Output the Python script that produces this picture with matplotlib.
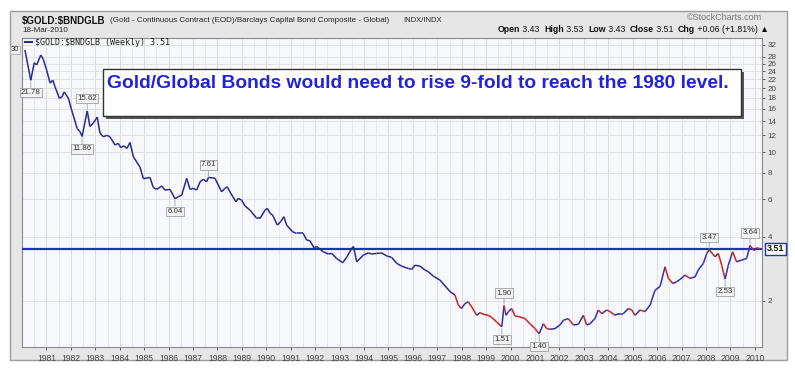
import matplotlib
matplotlib.use('Agg')
import matplotlib.pyplot as plt
from matplotlib.patches import Rectangle
from matplotlib.collections import LineCollection
from matplotlib.ticker import NullLocator, FixedLocator, FixedFormatter
import numpy as np

# weekly ratio $GOLD:$BNDGLB (decimal year, ratio)
years = [1980.12, 1980.36, 1980.50, 1980.60, 1980.77, 1980.87, 1981.01, 1981.15, 1981.26, 1981.35,
         1981.53, 1981.64, 1981.73, 1981.90, 1982.03, 1982.26, 1982.37, 1982.46, 1982.67, 1982.78,
         1982.92, 1983.08, 1983.19, 1983.33, 1983.47, 1983.60, 1983.81, 1983.94, 1984.04, 1984.18,
         1984.29, 1984.42, 1984.56, 1984.83, 1984.97, 1985.24, 1985.37, 1985.51, 1985.72, 1985.85,
         1986.06, 1986.26, 1986.40, 1986.54, 1986.74, 1986.88, 1987.01, 1987.15, 1987.29, 1987.42,
         1987.56, 1987.63, 1987.90, 1988.17, 1988.31, 1988.40, 1988.51, 1988.76, 1988.85, 1988.99,
         1989.13, 1989.33, 1989.61, 1989.74, 1989.95, 1990.04, 1990.15, 1990.26, 1990.45, 1990.59,
         1990.72, 1990.83, 1991.08, 1991.24, 1991.51, 1991.65, 1991.79, 1991.95, 1992.06, 1992.33,
         1992.54, 1992.68, 1992.88, 1993.13, 1993.30, 1993.50, 1993.57, 1993.70, 1993.97, 1994.18,
         1994.31, 1994.52, 1994.72, 1994.93, 1995.13, 1995.34, 1995.54, 1995.81, 1995.95, 1996.09,
         1996.29, 1996.50, 1996.63, 1996.84, 1997.11, 1997.52, 1997.72, 1997.86, 1997.99, 1998.13,
         1998.27, 1998.41, 1998.61, 1998.75, 1998.88, 1999.09, 1999.23, 1999.43, 1999.64, 1999.73,
         1999.81, 1999.91, 2000.04, 2000.18, 2000.38, 2000.59, 2000.79, 2001.00, 2001.17, 2001.34,
         2001.48, 2001.61, 2001.82, 2002.02, 2002.16, 2002.36, 2002.57, 2002.77, 2002.98, 2003.11,
         2003.25, 2003.45, 2003.59, 2003.73, 2003.93, 2004.07, 2004.27, 2004.41, 2004.61, 2004.82,
         2004.96, 2005.09, 2005.30, 2005.50, 2005.71, 2005.91, 2006.12, 2006.32, 2006.46, 2006.64,
         2006.80, 2006.93, 2007.14, 2007.34, 2007.55, 2007.68, 2007.89, 2008.03, 2008.13, 2008.37,
         2008.50, 2008.64, 2008.78, 2008.91, 2009.09, 2009.25, 2009.46, 2009.66, 2009.80, 2009.96,
         2010.08, 2010.21]
ratio = [30.2, 21.78, 26.3, 25.7, 28.6, 27.3, 24.3, 21.1, 21.8, 20.3,
         17.9, 18.2, 19.2, 17.9, 15.8, 12.9, 12.5, 11.86, 15.62, 13.2,
         13.7, 14.6, 12.3, 11.8, 12.0, 11.8, 10.8, 11.0, 10.5, 10.7,
         10.4, 11.1, 9.5, 8.5, 7.5, 7.6, 6.83, 6.68, 6.93, 6.63,
         6.68, 6.04, 6.17, 6.28, 7.53, 6.68, 6.76, 6.63, 7.26, 7.45,
         7.26, 7.61, 7.53, 6.51, 6.76, 6.87, 6.51, 5.84, 6.06, 5.95,
         5.58, 5.34, 4.88, 4.88, 5.34, 5.44, 5.16, 5.06, 4.54, 4.71,
         4.97, 4.54, 4.22, 4.15, 4.15, 3.86, 3.83, 3.55, 3.60, 3.40,
         3.32, 3.34, 3.16, 3.02, 3.22, 3.53, 3.60, 3.05, 3.28, 3.36,
         3.32, 3.34, 3.36, 3.25, 3.20, 3.00, 2.91, 2.84, 2.81, 2.94,
         2.91, 2.79, 2.74, 2.61, 2.50, 2.21, 2.13, 1.91, 1.84, 1.94,
         1.98, 1.87, 1.71, 1.76, 1.73, 1.71, 1.67, 1.59, 1.51, 1.90,
         1.71, 1.78, 1.84, 1.70, 1.68, 1.65, 1.56, 1.48, 1.40, 1.56,
         1.48, 1.47, 1.48, 1.54, 1.62, 1.65, 1.54, 1.55, 1.71, 1.54,
         1.56, 1.65, 1.81, 1.74, 1.81, 1.78, 1.71, 1.74, 1.74, 1.84,
         1.81, 1.71, 1.81, 1.78, 1.91, 2.24, 2.34, 2.89, 2.55, 2.41,
         2.46, 2.52, 2.64, 2.55, 2.59, 2.79, 3.00, 3.34, 3.47, 3.22,
         3.34, 2.94, 2.53, 2.94, 3.40, 3.05, 3.11, 3.16, 3.64, 3.45,
         3.55, 3.51]

last_close = 3.51
weekly_start = 1997.6

# labelled turning points
label_years = [1980.36, 1982.46, 1982.67, 1986.26, 1987.63, 1999.64, 1999.73, 2001.17, 2008.13, 2008.78, 2009.80]
label_values = [21.78, 11.86, 15.62, 6.04, 7.61, 1.51, 1.90, 1.40, 3.47, 2.53, 3.64]
label_above = [False, False, True, False, True, False, True, False, True, False, True]

ytick_values = [2, 4, 6, 8, 10, 12, 14, 16, 18, 20, 22, 24, 26, 28, 32]
xtick_years = list(range(1981, 2011))

W, H = 795, 369


def fx(x):
    return x / W


def fy(y):
    return 1 - y / H


plt.rcParams['font.family'] = ['Liberation Sans', 'DejaVu Sans']

fig = plt.figure(figsize=(7.95, 3.69), dpi=100)
fig.patch.set_facecolor('white')

# grey outer frame
fig.patches.append(Rectangle((fx(10), fy(360)), 777 / W, 349 / H, transform=fig.transFigure,
                             facecolor='#e6e6e6', edgecolor='#9c9c9c', lw=1, zorder=-5))

ax = fig.add_axes([fx(22), fy(346.7), (762 - 22) / W, (346.7 - 37.7) / H])
ax.set_zorder(1)
ax.set_facecolor('#f7f8fc')
ax.set_yscale('log')
ax.set_ylim(1.217, 34.5)
ax.set_xlim(1980.0, 2010.29)

for g in np.arange(1980.0, 2010.3, 0.5):
    ax.axvline(g, color='#dcdcdc' if g % 1 == 0 else '#e8e8e8', lw=0.7, zorder=1)
for v in ytick_values:
    ax.axhline(v, color='#e2e2e2', lw=0.7, zorder=1)

# price line: blue before weekly data, red/blue after
pts = np.column_stack([years, ratio])
segs = np.stack([pts[:-1], pts[1:]], axis=1)
colors = []
for i in range(len(years) - 1):
    if years[i] < weekly_start:
        colors.append('#2b2b8f')
    elif ratio[i + 1] < ratio[i]:
        colors.append('#d22020')
    else:
        colors.append('#3030b0')
ax.add_collection(LineCollection(segs, colors=colors, linewidths=1.1, zorder=4))

ax.axhline(last_close, color='#1a35b5', lw=1.6, zorder=3)

ax.yaxis.tick_right()
ax.yaxis.set_major_locator(FixedLocator(ytick_values))
ax.yaxis.set_major_formatter(FixedFormatter([str(v) for v in ytick_values]))
ax.yaxis.set_minor_locator(NullLocator())
ax.set_xticks(xtick_years)
ax.set_xticklabels([str(y) for y in xtick_years])
ax.tick_params(axis='both', labelsize=6.2, colors='#444444', length=2, width=0.6, pad=2)
ax.tick_params(axis='y', labelsize=5.8)
ax.tick_params(axis='x', pad=3)
for s in ax.spines.values():
    s.set_color('#8a8a8a')
    s.set_linewidth(0.8)

for yr, val, up in zip(label_years, label_values, label_above):
    off = 9 if up else -9
    ax.annotate('%.2f' % val, xy=(yr, val), xytext=(0, off), textcoords='offset points',
                ha='center', va='center', fontsize=5.7, color='#333333', zorder=6,
                bbox=dict(boxstyle='square,pad=0.15', fc='#f2f2f2', ec='#a0a0a0', lw=0.6),
                arrowprops=dict(arrowstyle='-', color='#a0a0a0', lw=0.6, shrinkA=0, shrinkB=1))

# first value marker on the left and last value on the right
ax.text(-0.004, ratio[0], '30', transform=ax.get_yaxis_transform(), ha='right', va='center',
        fontsize=5.5, color='#333333', clip_on=False,
        bbox=dict(boxstyle='square,pad=0.1', fc='#f2f2f2', ec='#a0a0a0', lw=0.5))
ax.text(1.006, last_close, '%.2f' % last_close, transform=ax.get_yaxis_transform(), ha='left',
        va='center', fontsize=6.5, weight='bold', color='#111111', zorder=7, clip_on=False,
        bbox=dict(boxstyle='square,pad=0.2', fc='white', ec='#1a35b5', lw=1))

# legend line
ax.plot([0.004, 0.013], [0.985, 0.985], transform=ax.transAxes, color='#2b2b8f', lw=1.5)
ax.text(0.017, 0.985, r'\$GOLD:\$BNDGLB (Weekly) 3.51', transform=ax.transAxes, ha='left',
        va='center', fontsize=6.0, family='DejaVu Sans Mono', color='#222222')

# message box with shadow
fig.patches.append(Rectangle((fx(106), fy(119)), (741 - 103) / W, (116 - 69) / H,
                             transform=fig.transFigure, facecolor='#555555', edgecolor='none', zorder=5))
fig.patches.append(Rectangle((fx(103), fy(116)), (741 - 103) / W, (116 - 69) / H,
                             transform=fig.transFigure, facecolor='white', edgecolor='#333333',
                             lw=1, zorder=6))
fig.text(fx(107), fy(84), 'Gold/Global Bonds would need to rise 9-fold to reach the 1980 level.',
         ha='left', va='center', fontsize=13.9, weight='bold', color='#2222dd', zorder=7)

# header
fig.text(fx(22), fy(21), r'\$GOLD:\$BNDGLB', ha='left', va='center', fontsize=7.0, weight='bold',
         color='#111111')
fig.text(fx(110), fy(21), '(Gold - Continuous Contract (EOD)/Barclays Capital Bond Composite - Global)',
         ha='left', va='center', fontsize=5.8, color='#222222')
fig.text(fx(403), fy(21), 'INDX/INDX', ha='left', va='center', fontsize=5.5, color='#222222')
fig.text(fx(22), fy(30), '18-Mar-2010', ha='left', va='center', fontsize=5.8, color='#222222')
fig.text(fx(762), fy(17), '\u00a9StockCharts.com', ha='right', va='center', fontsize=6.5,
         color='#777777')

parts = [('Open', True), (' 3.43  ', False), ('High', True), (' 3.53  ', False),
         ('Low', True), (' 3.43  ', False), ('Close', True), (' 3.51  ', False),
         ('Chg', True), (' +0.06 (+1.81%) \u25b2', False)]
renderer = fig.canvas.get_renderer()
xpos = fx(498)
for txt, bold in parts:
    t = fig.text(xpos, fy(30), txt, ha='left', va='center', fontsize=6.3,
                 weight='bold' if bold else 'normal', color='#111111')
    bb = t.get_window_extent(renderer=renderer)
    xpos += bb.width / (W)

fig.savefig('out.png', dpi=100)
